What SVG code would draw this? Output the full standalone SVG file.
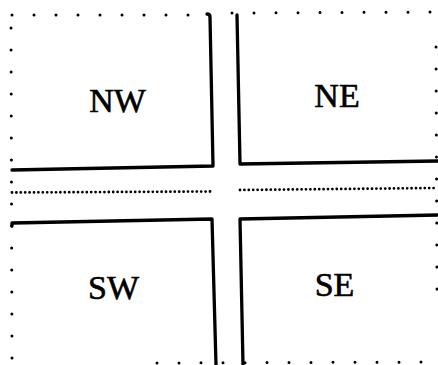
<svg xmlns="http://www.w3.org/2000/svg" width="438" height="365" viewBox="0 0 438 365">
  <style>
    .wall { fill: none; stroke: #000; stroke-width: 3.3; stroke-linecap: round; stroke-linejoin: round; }
    .sparse { fill: none; stroke: #000; stroke-width: 3; stroke-linecap: round; stroke-dasharray: 0 22; }
    .dense { fill: none; stroke: #000; stroke-width: 2.8; stroke-linecap: round; stroke-dasharray: 0 4.4; }
    .label { font-family: "Liberation Serif", "DejaVu Serif", serif; font-size: 34px; fill: #000; stroke: #000; stroke-width: 0.6; text-anchor: middle; }
  </style>
  <rect width="438" height="365" fill="#fff"/>

  <!-- open boundary of the region and the lane between the quadrants -->
  <g id="connectors">
    <path class="sparse" d="M12 15 L200 15"/>
    <path class="sparse" d="M232 13 L436 12"/>
    <path class="sparse" d="M11 28 L12 360"/>
    <path class="sparse" d="M436 47 L437 290"/>
    <path class="sparse" d="M157 363 L437 362"/>
    <path class="dense" d="M12 192.5 L213 191.5"/>
    <path class="dense" d="M240 190 L437 188"/>
  </g>

  <g id="NW">
    <path class="wall" d="M207 14 Q210 14 210 17 L213 166 L12 170"/>
    <text class="label" x="117.5" y="112">NW</text>
  </g>

  <g id="NE">
    <path class="wall" d="M237 15 L240 164 L438 161"/>
    <text class="label" x="337" y="107">NE</text>
  </g>

  <g id="SW">
    <path class="wall" d="M12 226 L12 223 L212 219 L216 365"/>
    <text class="label" x="113.5" y="299">SW</text>
  </g>

  <g id="SE">
    <path class="wall" d="M438 215 L240 219 L243 365"/>
    <text class="label" x="334.5" y="296">SE</text>
  </g>
</svg>
